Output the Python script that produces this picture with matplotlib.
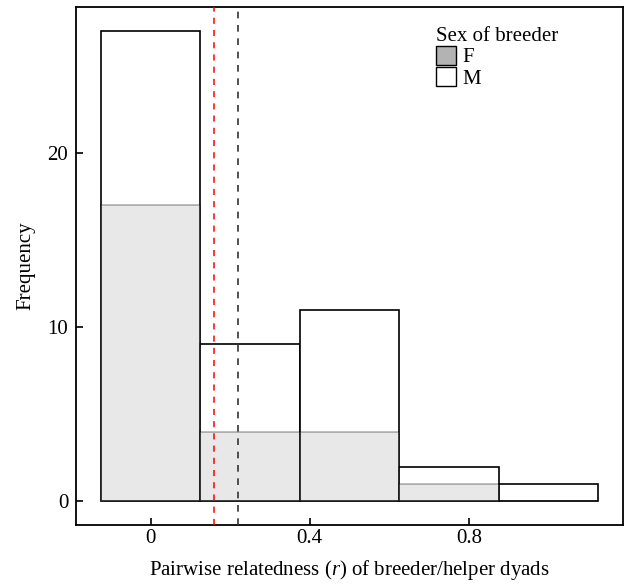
import matplotlib
matplotlib.use('Agg')
import matplotlib.pyplot as plt
from matplotlib.patches import Patch

plt.rcParams['font.family'] = 'Liberation Serif'
plt.rcParams['mathtext.fontset'] = 'custom'
plt.rcParams['mathtext.rm'] = 'Liberation Serif'
plt.rcParams['mathtext.it'] = 'Liberation Serif:italic'

# histogram counts per bin (bin width 0.25)
bin_centers = [0.0, 0.25, 0.5, 0.75, 1.0]
count_m = [27, 9, 11, 2, 1]
count_f = [17, 4, 4, 1, 0]
mean_line_red = 0.16
mean_line_black = 0.219
xticks = [0, 0.4, 0.8]
xtick_labels = ['0', '0.4', '0.8']
yticks = [0, 10, 20]

fig = plt.figure(figsize=(6.3, 5.86), dpi=100)
ax = fig.add_axes((76 / 630, 1 - 525 / 586, 547 / 630, 518 / 586))

ax.bar(bin_centers, count_m, width=0.25, color='white', edgecolor='black', lw=1.2, zorder=2)
ax.bar(bin_centers, count_f, width=0.25, color=(0.7, 0.7, 0.7, 0.3),
       edgecolor=(0, 0, 0, 0.3), lw=1.2, zorder=3)

ax.axvline(mean_line_red, color='red', ls=(0, (4, 4)), lw=1.1, zorder=4)
ax.axvline(mean_line_black, color='#333333', ls=(0, (4, 4)), lw=1.2, zorder=4)

ax.set_xlim(-0.1875, 1.1875)
ax.set_ylim(-1.35, 28.35)
ax.set_xticks(xticks)
ax.set_xticklabels(xtick_labels)
ax.set_yticks(yticks)
ax.tick_params(direction='in', length=5, width=1.2, labelsize=15)
ax.tick_params(axis='x', pad=3)
ax.tick_params(axis='y', pad=5.5)
for s in ax.spines.values():
    s.set_linewidth(1.3)

ax.set_xlabel('Pairwise relatedness ($\\mathit{r}$) of breeder/helper dyads', fontsize=15, labelpad=7)
ax.set_ylabel('Frequency', fontsize=15, labelpad=9)

handles = [Patch(facecolor='#b3b3b3', edgecolor='black', lw=1),
           Patch(facecolor='white', edgecolor='black', lw=1)]
leg = ax.legend(handles, ['F', 'M'], title='Sex of breeder', loc='upper left',
                bbox_to_anchor=(436 / 630, 1 - 27 / 586), bbox_transform=fig.transFigure,
                frameon=False, fontsize=15, title_fontsize=15, handlelength=0.95,
                handleheight=1.0, labelspacing=0.0, handletextpad=0.3,
                alignment='left', borderaxespad=0, borderpad=0.0)

fig.savefig('out.png', dpi=100)
